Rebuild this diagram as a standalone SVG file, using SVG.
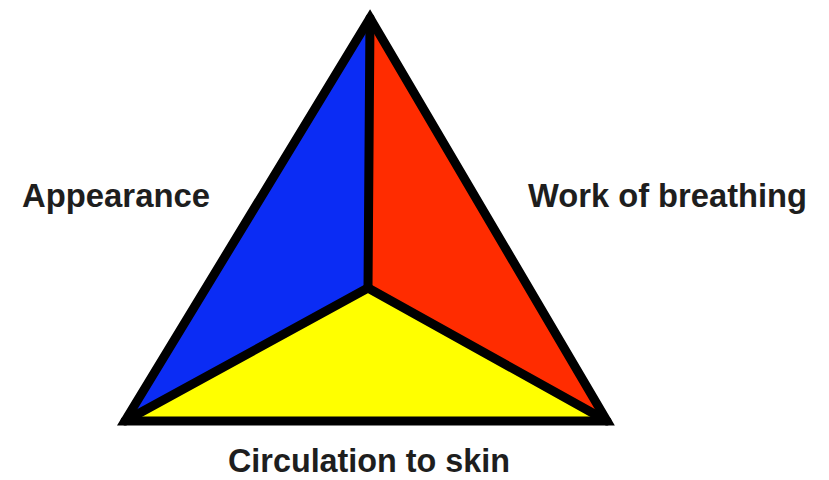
<svg xmlns="http://www.w3.org/2000/svg" width="829" height="480" viewBox="0 0 829 480">
  <style>
    .lbl { font-family: "Liberation Sans", Arial, sans-serif; font-weight: bold; font-size: 32.5px; fill: #1e1e1e; }
    .edge { fill: none; stroke: #000; stroke-width: 9; stroke-linejoin: miter; stroke-linecap: round; }
  </style>
  <rect width="829" height="480" fill="#fff"/>
  <g id="appearance">
    <polygon points="370,18 368,288 125,421" fill="#0b2cf4"/>
    <text class="lbl" x="22" y="207" textLength="188" lengthAdjust="spacingAndGlyphs">Appearance</text>
  </g>
  <g id="work-of-breathing">
    <polygon points="370,18 607,421 368,288" fill="#ff2c00"/>
    <text class="lbl" x="528" y="207" textLength="279" lengthAdjust="spacingAndGlyphs">Work of breathing</text>
  </g>
  <g id="circulation-to-skin">
    <polygon points="125,421 368,288 607,421" fill="#ffff00"/>
    <text class="lbl" x="228" y="472" textLength="282" lengthAdjust="spacingAndGlyphs">Circulation to skin</text>
  </g>
  <g id="connectors">
    <polyline class="edge" points="370,18 368,288"/>
    <polyline class="edge" points="125,421 368,288 607,421"/>
    <polygon class="edge" points="370,18 607,421 125,421"/>
  </g>
</svg>
